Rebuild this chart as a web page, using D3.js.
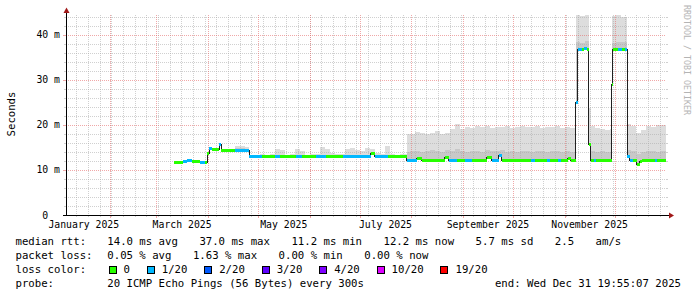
<!DOCTYPE html>
<html>
<head>
<meta charset="utf-8">
<script src="https://cdn.jsdelivr.net/npm/d3@7"></script>
<style>
  html, body { margin: 0; padding: 0; background: #fff; }
  svg { display: block; font-family: "DejaVu Sans Mono", monospace; }
  text { white-space: pre; }
</style>
</head>
<body>
<svg id="chart" width="697" height="297"></svg>
<script>
// time window of the graph (UTC)
const startTime = "2025-01-05T19:55:07";
const endTime = "2025-12-31T19:55:07";

// median rtt, step after each date (ms) and its loss level (index in lossLabels)
const medDates = [
  "2025-03-11T15:00", "2025-03-17T01:00", "2025-03-19T10:00", "2025-03-22T10:00", "2025-03-27T05:00",
  "2025-03-30T05:00", "2025-03-31T17:00", "2025-04-01T22:00", "2025-04-03T10:00", "2025-04-07T22:00",
  "2025-04-09T03:00", "2025-04-17T05:00", "2025-04-25T19:00",
  "2025-05-03T10:00", "2025-05-11T05:00", "2025-05-14T05:00", "2025-05-23T19:00", "2025-05-27T10:00",
  "2025-06-05T00:00", "2025-06-11T00:00", "2025-06-21T05:00", "2025-07-07T19:00", "2025-07-10T05:00",
  "2025-07-18T00:00",
  "2025-07-29T09:00", "2025-08-04T09:00", "2025-08-07T09:00", "2025-08-21T05:00", "2025-08-23T14:00",
  "2025-08-28T10:00", "2025-09-02T05:00", "2025-09-06T10:00", "2025-09-15T10:00", "2025-09-18T10:00",
  "2025-09-22T14:00", "2025-09-24T10:00", "2025-10-11T19:00", "2025-10-14T05:00", "2025-10-21T10:00",
  "2025-10-23T05:00", "2025-10-28T00:00", "2025-10-29T19:00", "2025-11-03T00:00", "2025-11-04T19:00",
  "2025-11-07T19:00", "2025-11-08T19:00", "2025-11-11T10:00", "2025-11-12T14:00", "2025-11-14T10:00",
  "2025-11-15T14:00", "2025-11-16T19:00", "2025-11-18T14:00", "2025-11-19T19:00",
  "2025-11-29T05:00", "2025-11-29T19:00", "2025-12-03T00:00", "2025-12-05T10:00", "2025-12-07T05:00",
  "2025-12-08T14:00", "2025-12-10T05:00", "2025-12-12T00:00", "2025-12-14T10:00", "2025-12-16T05:00",
  "2025-12-17T10:00", "2025-12-25T05:00", "2025-12-26T10:00", "2025-12-31T19:55"
];
const medValues = [
  11.7, 11.8, 12.1, 11.8, 11.7, 11.7, 13.7, 14.8, 14.5, 15.7, 14.4, 14.4, 12.9,
  12.9, 12.9, 12.9, 12.9, 12.9, 12.9, 12.9, 12.9, 13.6, 12.9, 12.9,
  12.1, 12.6, 12.1, 12.7, 12.1, 12.1, 12.1, 12.1, 12.8, 12.1, 13.2, 12.1, 12.1, 12.1, 12.1,
  12.1, 12.1, 12.1, 12.6, 12.0,
  25.0, 36.7, 36.7, 36.9, 36.7, 15.6, 12.0, 12.0, 12.0,
  28.9, 36.7, 36.7, 36.7, 36.7, 13.0, 12.1, 12.1, 11.3, 11.8, 12.2, 12.2, 12.2, 12.2
];
const medLoss = [
  0, 1, 1, 0, 1, 0, 0, 1, 0, 1, 0, 1, 1,
  0, 1, 0, 1, 0, 1, 0, 1, 0, 1, 0,
  1, 0, 0, 0, 1, 0, 1, 0, 0, 1, 1, 0, 1, 0, 1, 0, 1, 0, 0, 0,
  1, 1, 0, 1, 0, 0, 0, 1, 0,
  0, 0, 1, 0, 1, 1, 1, 0, 0, 0, 0, 1, 0, 0
];

// smoke: highest ping and top of the dense part (ms), step after each date
const smokeDates = [
  "2025-04-17T05:00", "2025-04-20", "2025-04-23", "2025-04-25T19:00", "2025-04-29", "2025-05-02",
  "2025-05-05", "2025-05-08", "2025-05-11", "2025-05-14", "2025-05-17", "2025-05-20", "2025-05-23",
  "2025-05-26", "2025-05-29", "2025-06-01", "2025-06-04", "2025-06-07", "2025-06-10", "2025-06-13",
  "2025-06-16", "2025-06-19", "2025-06-22", "2025-06-25", "2025-06-28", "2025-07-01", "2025-07-04",
  "2025-07-07", "2025-07-10", "2025-07-13", "2025-07-16", "2025-07-19", "2025-07-22", "2025-07-25",
  "2025-07-28", "2025-07-29T09:00", "2025-07-31", "2025-08-03", "2025-08-06", "2025-08-09", "2025-08-12",
  "2025-08-15", "2025-08-18", "2025-08-21", "2025-08-24", "2025-08-27", "2025-08-30", "2025-09-02",
  "2025-09-05", "2025-09-08", "2025-09-11", "2025-09-14", "2025-09-17", "2025-09-20", "2025-09-23",
  "2025-09-26", "2025-09-29", "2025-10-02", "2025-10-05", "2025-10-08", "2025-10-11", "2025-10-14",
  "2025-10-17", "2025-10-20", "2025-10-23", "2025-10-26", "2025-10-29", "2025-11-01", "2025-11-04",
  "2025-11-07T19:00", "2025-11-10", "2025-11-13", "2025-11-15T14:00", "2025-11-17", "2025-11-19",
  "2025-11-22", "2025-11-25", "2025-11-28", "2025-11-29T05:00", "2025-12-02", "2025-12-05",
  "2025-12-08T14:00", "2025-12-11", "2025-12-14", "2025-12-17", "2025-12-20", "2025-12-23",
  "2025-12-26", "2025-12-29", "2025-12-31T19:55"
];
const smokeMax = [
  15.3, 15.4, 15.2, 13.4, 13.3, 13.5, 13.3, 13.6, 14.7, 14.5, 13.4, 13.5, 14.6,
  14.2, 13.4, 13.6, 13.5, 15.1, 14.6, 13.8, 13.5, 13.6, 14.7, 14.8, 14.5, 14.2, 14.8,
  14.6, 13.8, 13.6, 15.3, 13.5, 13.4, 13.6, 13.5, 17.9, 18.1, 18.5, 18.3, 18.0, 18.2,
  18.6, 18.1, 18.3, 19.0, 20.3, 19.1, 19.6, 19.4, 19.7, 19.5, 19.8, 19.3, 19.6, 19.5,
  19.7, 19.4, 19.6, 19.8, 19.5, 19.5, 19.7, 19.4, 19.6, 19.5, 19.8, 19.4, 19.6, 19.3,
  44.4, 44.2, 44.4, 23.7, 19.8, 19.4, 19.0, 18.8, 19.0, 44.2, 44.4, 44.0,
  20.2, 19.8, 18.3, 18.8, 19.8, 19.6, 19.9, 20.1, 20.1
];
const smokeMid = [
  14.8, 14.8, 14.7, 13.1, 13.1, 13.1, 13.1, 13.2, 13.4, 13.3, 13.1, 13.1, 13.3,
  13.2, 13.1, 13.1, 13.1, 13.4, 13.3, 13.2, 13.1, 13.1, 13.4, 13.4, 13.3, 13.3, 13.4,
  13.4, 13.2, 13.2, 13.4, 13.1, 13.1, 13.1, 13.1, 14.0, 14.2, 14.3, 14.1, 14.2, 14.4,
  14.2, 14.1, 14.5, 14.3, 14.6, 14.2, 14.1, 14.3, 14.2, 14.0, 14.4, 14.2, 14.3, 14.5,
  14.1, 14.2, 14.0, 14.3, 14.2, 14.1, 14.3, 14.2, 14.0, 14.2, 14.3, 14.1, 14.2, 14.0,
  38.5, 38.3, 38.6, 15.0, 14.3, 14.1, 14.2, 14.0, 14.1, 38.3, 38.5, 38.4,
  14.5, 14.2, 13.6, 14.0, 14.3, 14.2, 14.1, 14.3, 14.3
];

const yTicks = [0, 10, 20, 30, 40];
const labelMonths = ["2025-01-01", "2025-03-01", "2025-05-01", "2025-07-01", "2025-09-01", "2025-11-01"];

const lossLabels = ["0", "1/20", "2/20", "3/20", "4/20", "10/20", "19/20"];
const lossColors = ["#26ff00", "#00b8ff", "#0059ff", "#5e00ff", "#7e00ff", "#dd00ff", "#ff0000"];

const rttStats = ["14.0 ms avg", "37.0 ms max", "11.2 ms min", "12.2 ms now", "5.7 ms sd", "2.5", "am/s"];
const lossStats = ["0.05 % avg", "1.63 % max", "0.00 % min", "0.00 % now"];
const probeText = "20 ICMP Echo Pings (56 Bytes) every 300s";
const endText = "end: Wed Dec 31 19:55:07 2025";

const parseT = s => new Date(s.length === 10 ? s + "T00:00Z" : s + "Z");

const svg = d3.select("#chart");
const P = {l: 66, r: 666, t: 15, b: 215};
const yMax = 44.44;

const x = d3.scaleUtc().domain([parseT(startTime), parseT(endTime)]).range([P.l, P.r]);
const y = d3.scaleLinear().domain([0, yMax]).range([P.b, P.t]);

const medT = medDates.map(parseT);
const smT = smokeDates.map(parseT);
const stepAt = (ts, vs, t) => vs[Math.max(0, d3.bisectRight(ts, t) - 1)];

// smoke, bounded below by the median
const times = Array.from(new Set(smT.concat(medT).filter(t => t >= smT[0]).map(t => +t)))
  .sort(d3.ascending).map(t => new Date(t));
const smoke = times.map(t => ({
  t: t,
  lo: stepAt(medT, medValues, t),
  mid: stepAt(smT, smokeMid, t),
  hi: stepAt(smT, smokeMax, t)
}));

const area = d3.area().x(d => x(d.t)).y0(d => y(d.lo)).curve(d3.curveStepAfter);
svg.append("path").datum(smoke)
  .attr("d", area.y1(d => y(d.hi)))
  .attr("fill", "#dddddd").attr("shape-rendering", "crispEdges");
svg.append("path").datum(smoke)
  .attr("d", area.y1(d => y(Math.max(d.mid, d.lo))))
  .attr("fill", "#c8c8c8").attr("shape-rendering", "crispEdges");

// grid
const grid = svg.append("g");
const t0 = parseT(startTime), t1 = parseT(endTime);
const px = v => Math.round(v) + 0.5;

d3.range(2, yMax, 2).filter(v => v % 10 !== 0).forEach(v => {
  const yy = px(y(v));
  grid.append("line").attr("x1", P.l).attr("x2", P.r).attr("y1", yy).attr("y2", yy)
    .attr("stroke", "rgba(170,170,170,0.55)").attr("stroke-dasharray", "1,1");
  grid.append("line").attr("x1", P.l - 2).attr("x2", P.l).attr("y1", yy).attr("y2", yy)
    .attr("stroke", "rgba(170,170,170,0.55)");
  grid.append("line").attr("x1", P.r).attr("x2", P.r + 2).attr("y1", yy).attr("y2", yy)
    .attr("stroke", "rgba(170,170,170,0.55)");
});
d3.utcSunday.range(t0, t1).forEach(t => {
  const xx = px(x(t));
  grid.append("line").attr("x1", xx).attr("x2", xx).attr("y1", P.t).attr("y2", P.b)
    .attr("stroke", "rgba(170,170,170,0.55)").attr("stroke-dasharray", "1,1");
  grid.append("line").attr("x1", xx).attr("x2", xx).attr("y1", P.b).attr("y2", P.b + 2)
    .attr("stroke", "rgba(170,170,170,0.55)");
});
yTicks.forEach(v => {
  const yy = px(y(v));
  grid.append("line").attr("x1", P.l).attr("x2", P.r).attr("y1", yy).attr("y2", yy)
    .attr("stroke", "rgba(230,110,110,0.6)").attr("stroke-dasharray", "1,1");
  grid.append("line").attr("x1", P.l - 3).attr("x2", P.l).attr("y1", yy).attr("y2", yy)
    .attr("stroke", "rgba(230,110,110,0.6)");
});
d3.utcMonth.range(t0, t1).forEach(t => {
  const xx = px(x(t));
  grid.append("line").attr("x1", xx).attr("x2", xx).attr("y1", P.t).attr("y2", P.b)
    .attr("stroke", "rgba(230,110,110,0.6)").attr("stroke-dasharray", "1,1");
  grid.append("line").attr("x1", xx).attr("x2", xx).attr("y1", P.b).attr("y2", P.b + 3)
    .attr("stroke", "rgba(230,110,110,0.6)");
});

// median: black step line under coloured loss band
const med = medT.map((t, i) => ({t: t, v: medValues[i], loss: medLoss[i]}));
svg.append("path").datum(med)
  .attr("d", d3.line().x(d => x(d.t)).y(d => y(d.v)).curve(d3.curveStepAfter))
  .attr("fill", "none").attr("stroke", "#202020").attr("stroke-width", 1)
  .attr("shape-rendering", "crispEdges");
svg.append("g").selectAll("rect")
  .data(med.slice(0, -1))
  .join("rect")
  .attr("x", (d, i) => x(d.t))
  .attr("width", (d, i) => x(med[i + 1].t) - x(d.t))
  .attr("y", d => y(d.v) - 1.5)
  .attr("height", 3)
  .attr("fill", d => lossColors[d.loss])
  .attr("shape-rendering", "crispEdges");

// axes
svg.append("line").attr("x1", P.l + 0.5).attr("x2", P.l + 0.5).attr("y1", P.b + 1).attr("y2", P.t - 2)
  .attr("stroke", "#000");
svg.append("line").attr("x1", P.l - 3).attr("x2", P.r + 3).attr("y1", P.b + 0.5).attr("y2", P.b + 0.5)
  .attr("stroke", "#000");
svg.append("path").attr("d", `M${P.l - 2.5},${P.t - 2}L${P.l + 3.5},${P.t - 2}L${P.l + 0.5},${P.t - 7.5}Z`)
  .attr("fill", "#a01818");
svg.append("path").attr("d", `M${P.r + 3},${P.b - 2.5}L${P.r + 3},${P.b + 3.5}L${P.r + 8},${P.b + 0.5}Z`)
  .attr("fill", "#a01818");

// axis labels
svg.append("g").selectAll("text")
  .data(yTicks)
  .join("text")
  .attr("x", 60)
  .attr("y", d => y(d) + 3.5)
  .attr("text-anchor", "end")
  .attr("font-size", "9.8px")
  .text(d => d === 0 ? "0  " : d + " m");

svg.append("g").selectAll("text")
  .data(labelMonths.map(parseT))
  .join("text")
  .attr("x", d => x(new Date((+d + +d3.utcMonth.offset(d, 1)) / 2)))
  .attr("y", 228)
  .attr("text-anchor", "middle")
  .attr("font-size", "9.8px")
  .text(d => d3.utcFormat("%B %Y")(d));

svg.append("text")
  .attr("transform", "translate(15,114) rotate(-90)")
  .attr("text-anchor", "middle")
  .attr("font-size", "10.67px")
  .text("Seconds");

svg.append("text")
  .attr("transform", "translate(683.5,60) rotate(90)")
  .attr("text-anchor", "middle")
  .attr("font-size", "8.5px")
  .attr("fill", "#b4b4b4")
  .attr("textLength", 110)
  .attr("lengthAdjust", "spacingAndGlyphs")
  .text("RRDTOOL / TOBI OETIKER");

// legend
const leg = svg.append("g").attr("font-size", "10.67px");
const rowY = [245, 259, 273, 287];
const colX = 107.3, gap = 21.5;

function statRow(label, items, yy) {
  leg.append("text").attr("x", 15.5).attr("y", yy).text(label);
  let xx = colX;
  items.forEach(s => {
    const t = leg.append("text").attr("x", xx).attr("y", yy).text(s);
    xx += t.node().getComputedTextLength() + gap;
  });
}
statRow("median rtt:", rttStats, rowY[0]);
statRow("packet loss:", lossStats, rowY[1]);

leg.append("text").attr("x", 15.5).attr("y", rowY[2]).text("loss color:");
let bx = 109;
lossLabels.forEach((lab, i) => {
  leg.append("rect").attr("x", bx).attr("y", rowY[2] - 7).attr("width", 7).attr("height", 7)
    .attr("fill", lossColors[i]).attr("stroke", "#000").attr("stroke-width", 1)
    .attr("shape-rendering", "crispEdges");
  const t = leg.append("text").attr("x", bx + 14.5).attr("y", rowY[2]).text(lab);
  bx += 14.5 + t.node().getComputedTextLength() + 17.3;
});

leg.append("text").attr("x", 15.5).attr("y", rowY[3]).text("probe:");
leg.append("text").attr("x", colX).attr("y", rowY[3]).text(probeText);
leg.append("text").attr("x", 681).attr("y", rowY[3]).attr("text-anchor", "end").text(endText);
</script>
</body>
</html>
